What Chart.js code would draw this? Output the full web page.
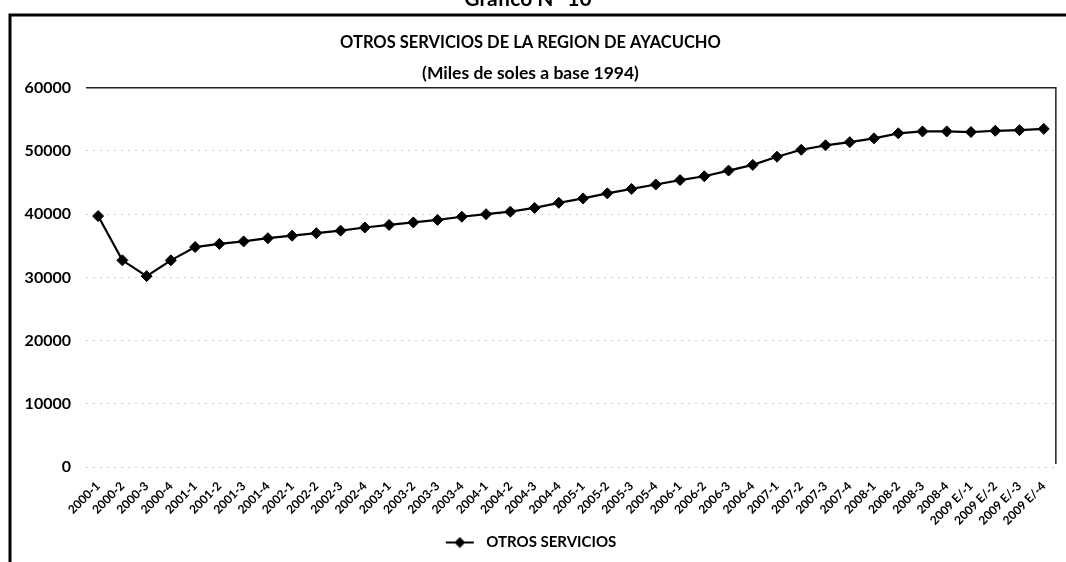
<!DOCTYPE html>
<html>
<head>
<meta charset="utf-8">
<title>Otros servicios - Ayacucho</title>
<script src="https://cdn.jsdelivr.net/npm/chart.js@4.4.1/dist/chart.umd.min.js"></script>
<style>
  html, body { margin: 0; padding: 0; background: #fff; }
  #wrap { width: 1066px; height: 562px; position: relative; }
</style>
</head>
<body>
<div id="wrap"><canvas id="serviciosChart" width="1066" height="562"></canvas></div>
<script>
// Quarters (tick labels of the category axis)
const quarters = [
  '2000-1', '2000-2', '2000-3', '2000-4',
  '2001-1', '2001-2', '2001-3', '2001-4',
  '2002-1', '2002-2', '2002-3', '2002-4',
  '2003-1', '2003-2', '2003-3', '2003-4',
  '2004-1', '2004-2', '2004-3', '2004-4',
  '2005-1', '2005-2', '2005-3', '2005-4',
  '2006-1', '2006-2', '2006-3', '2006-4',
  '2007-1', '2007-2', '2007-3', '2007-4',
  '2008-1', '2008-2', '2008-3', '2008-4',
  '2009 E/-1', '2009 E/-2', '2009 E/-3', '2009 E/-4'
];

// Otros servicios, miles de soles a base 1994
const otrosServicios = [
  39700, 32700, 30200, 32700,
  34800, 35300, 35700, 36200,
  36600, 37000, 37400, 37900,
  38300, 38700, 39100, 39600,
  40000, 40400, 41000, 41800,
  42500, 43300, 44000, 44700,
  45400, 46000, 46900, 47800,
  49100, 50200, 50900, 51400,
  52000, 52800, 53100, 53100,
  53000, 53200, 53300, 53500
];

// Y axis range
const yMin = 0;
const yMax = 60000;
const yStep = 10000;

const FONT = 'Lato, "DejaVu Sans", sans-serif';

// little line + diamond used as legend symbol (right part left blank as a gap)
function legendSymbol() {
  const c = document.createElement('canvas');
  c.width = 34; c.height = 12;
  const g = c.getContext('2d');
  g.strokeStyle = '#000';
  g.lineWidth = 2;
  g.beginPath(); g.moveTo(1, 6); g.lineTo(29, 6); g.stroke();
  g.fillStyle = '#000';
  g.beginPath();
  g.moveTo(15, 0.5); g.lineTo(20.5, 6); g.lineTo(15, 11.5); g.lineTo(9.5, 6);
  g.closePath(); g.fill();
  return c;
}

// outer frame, the clipped heading above it, and the plot border (top + right)
const framePlugin = {
  id: 'framePlugin',
  afterDraw(chart) {
    const ctx = chart.ctx;
    const area = chart.chartArea;
    ctx.save();
    ctx.fillStyle = '#000';
    ctx.font = 'bold 21px ' + FONT;
    ctx.textAlign = 'center';
    ctx.textBaseline = 'alphabetic';
    ctx.fillText('Gráfico N° 10', 528, 6);

    ctx.strokeStyle = '#000';
    ctx.lineWidth = 3;
    ctx.beginPath();
    ctx.moveTo(10, 562);
    ctx.lineTo(10, 15);
    ctx.lineTo(1066, 15);
    ctx.stroke();

    ctx.lineWidth = 1.5;
    ctx.strokeStyle = '#222';
    ctx.beginPath();
    ctx.moveTo(area.left, area.top);
    ctx.lineTo(area.right, area.top);
    ctx.lineTo(area.right, area.bottom - 3);
    ctx.stroke();
    ctx.restore();
  }
};

const ctx = document.getElementById('serviciosChart').getContext('2d');
const serviciosChart = new Chart(ctx, {
  type: 'line',
  data: {
    labels: quarters,
    datasets: [
      {
        label: 'OTROS SERVICIOS',
        data: otrosServicios,
        borderColor: '#000',
        backgroundColor: '#000',
        borderWidth: 2.2,
        pointStyle: 'rectRot',
        pointRadius: 5.5,
        pointBorderWidth: 1,
        pointBackgroundColor: '#000',
        pointBorderColor: '#000',
        tension: 0
      }
    ]
  },
  options: {
    responsive: false,
    animation: false,
    devicePixelRatio: 1,
    layout: {
      padding: { left: 0, right: 5, top: 0, bottom: 2 }
    },
    scales: {
      x: {
        offset: true,
        grid: { display: false, drawTicks: false },
        border: { display: false },
        ticks: {
          autoSkip: false,
          minRotation: 45,
          maxRotation: 45,
          padding: 12,
          color: '#000',
          font: { family: FONT, size: 12, weight: 'bold' }
        },
        afterFit: scale => { scale.height = 60; }
      },
      y: {
        min: yMin,
        max: yMax,
        grid: {
          color: '#cfcfcf',
          lineWidth: 1,
          drawTicks: false
        },
        border: { display: false, dash: [2, 5] },
        ticks: {
          stepSize: yStep,
          padding: 15,
          color: '#000',
          font: { family: FONT, size: 16, weight: 'bold' },
          callback: value => String(value)
        },
        afterFit: scale => { scale.width = 86; }
      }
    },
    plugins: {
      title: {
        display: true,
        text: 'OTROS SERVICIOS DE LA REGION DE AYACUCHO',
        color: '#000',
        font: { family: FONT, size: 16.5, weight: 'bold' },
        padding: { top: 33, bottom: 0 }
      },
      subtitle: {
        display: true,
        text: '(Miles de soles a base 1994)',
        color: '#000',
        font: { family: FONT, size: 17.5, weight: 'bold' },
        padding: { top: 10, bottom: 4 }
      },
      legend: {
        position: 'bottom',
        labels: {
          usePointStyle: true,
          pointStyleWidth: 34,
          color: '#000',
          font: { family: FONT, size: 15, weight: 'bold' },
          padding: 8,
          generateLabels: chart => chart.data.datasets.map((ds, i) => ({
            text: ds.label,
            pointStyle: legendSymbol(),
            fillStyle: '#000',
            strokeStyle: '#000',
            lineWidth: 0,
            hidden: false,
            datasetIndex: i
          }))
        }
      },
      tooltip: { enabled: false }
    }
  },
  plugins: [framePlugin]
});
</script>
</body>
</html>
